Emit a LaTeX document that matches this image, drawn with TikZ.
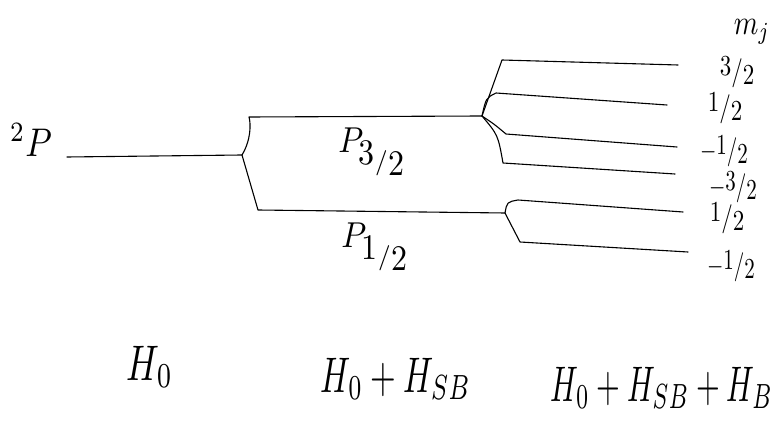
\documentclass[tikz,border=0pt]{standalone}
\usepackage{amsmath}
\newcommand{\hfr}[2]{\raisebox{0.35ex}{#1}/\raisebox{-0.35ex}{#2}}
\newcommand{\mysc}[3]{\scalebox{#1}[#2]{#3}}
\begin{document}
\begin{tikzpicture}[x=1pt,y=-1pt,
  lvl/.style={line width=1.1pt, line cap=round, line join=round},
  lbl/.style={inner sep=0pt}]
\useasboundingbox (0,0) rectangle (772,422);
% coordinates of the levels
\coordinate (a0) at (67,157);
\coordinate (a1) at (242,155);
\coordinate (b0) at (249,117);
\coordinate (b1) at (482,116);
\coordinate (c0) at (258,210);
\coordinate (c1) at (505,213);
\coordinate (u1s) at (502,60);  \coordinate (u1e) at (678,65);
\coordinate (u2s) at (496,93);  \coordinate (u2e) at (667,105);
\coordinate (u3s) at (506,134); \coordinate (u3e) at (677,147);
\coordinate (u4s) at (503,163); \coordinate (u4e) at (675,174);
\coordinate (l1s) at (518,200); \coordinate (l1e) at (683,212);
\coordinate (l2s) at (520,242); \coordinate (l2e) at (688,252);
% H0 level
\draw[lvl] (a0) -- (a1);
% fine structure
\draw[lvl] (a1) .. controls (251,140) and (251,124) .. (b0) -- (b1);
\draw[lvl] (a1) -- (c0) -- (c1);
% Zeeman, P3/2
\draw[lvl] (b1) .. controls (492,88) .. (u1s) -- (u1e);
\draw[lvl] (b1) .. controls (486,98) .. (u2s) -- (u2e);
\draw[lvl] (b1) .. controls (494,124) .. (u3s) -- (u3e);
\draw[lvl] (b1) .. controls (498,135) .. (u4s) -- (u4e);
% Zeeman, P1/2
\draw[lvl] (c1) .. controls (507,202) .. (l1s) -- (l1e);
\draw[lvl] (c1) -- (l2s) -- (l2e);
% labels
\node[lbl] (t2p) at (31,140) {\mysc{3.4}{4}{$^{2}P$}};
\node[lbl] (tp3) at (372,152) {\mysc{3.2}{3.6}{$P_{\hfr{3}{2}}$}};
\node[lbl] (tp1) at (375,247) {\mysc{3.2}{3.6}{$P_{\hfr{1}{2}}$}};
\node[lbl] (tmj) at (752,32) {\mysc{2.8}{3.5}{$m_j$}};
\node[lbl] (m1) at (737,72) {\mysc{2.3}{2.9}{\hfr{3}{2}}};
\node[lbl] (m2) at (725,108) {\mysc{2.3}{2.9}{\hfr{1}{2}}};
\node[lbl] (m3) at (724,151) {\mysc{2.1}{2.9}{$-$\hfr{1}{2}}};
\node[lbl] (m4) at (733,187) {\mysc{2.1}{2.9}{$-$\hfr{3}{2}}};
\node[lbl] (m5) at (727,218) {\mysc{2.3}{2.9}{\hfr{1}{2}}};
\node[lbl] (m6) at (731,266) {\mysc{2.1}{2.9}{$-$\hfr{1}{2}}};
\node[lbl] (h1) at (150,367) {\mysc{3.6}{5}{$H_0$}};
\node[lbl] (h2) at (396,379) {\mysc{3.3}{5}{$H_0+H_{SB}$}};
\node[lbl] (h3) at (662,388) {\mysc{3.05}{5}{$H_0+H_{SB}+H_B$}};
\end{tikzpicture}
\end{document}
